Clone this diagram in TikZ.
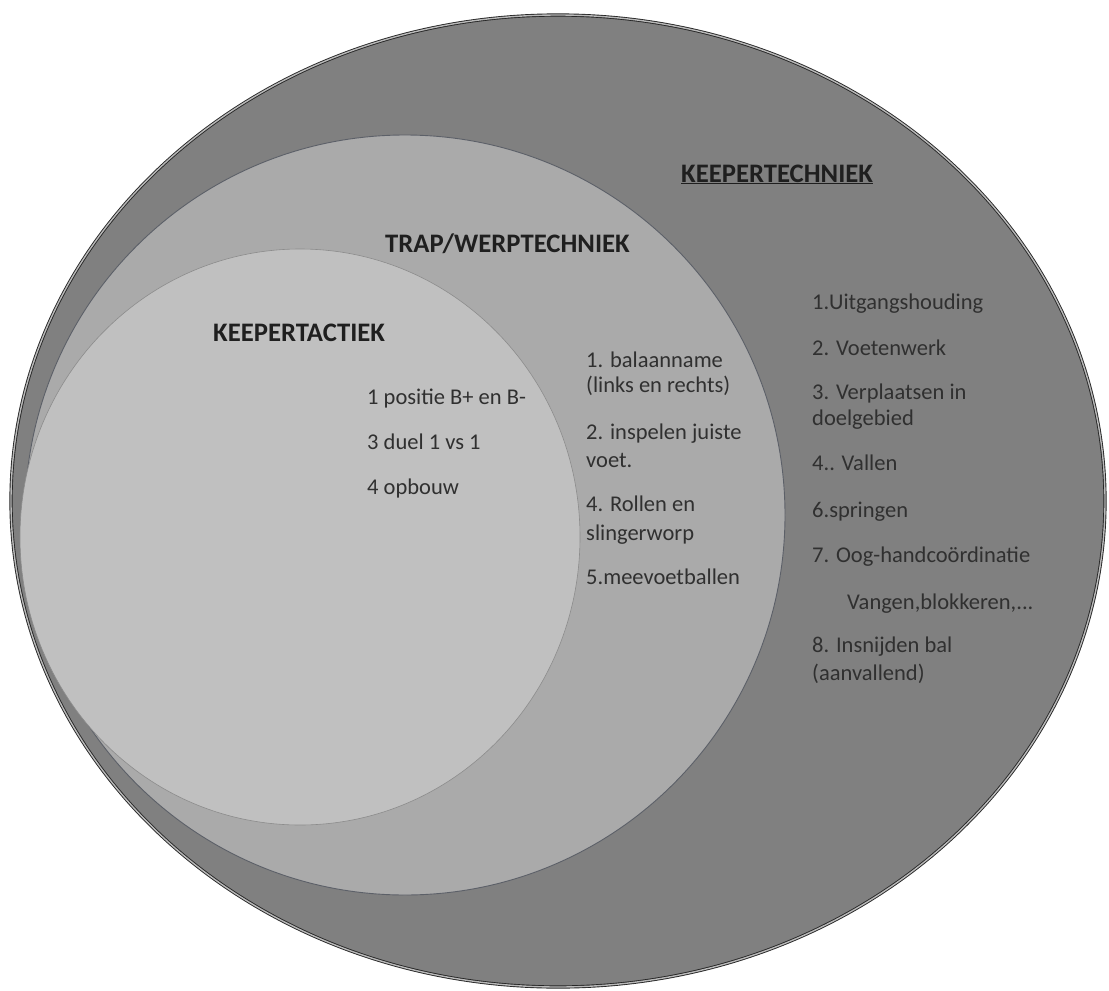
\documentclass[tikz,border=0pt]{standalone}
\usepackage{fontspec}
\setmainfont{Carlito}
\definecolor{techgray}{HTML}{808080}
\definecolor{trapgray}{HTML}{AAAAAA}
\definecolor{tactgray}{HTML}{C0C0C0}
\definecolor{rimgray}{HTML}{5C6068}
\definecolor{inkgray}{HTML}{303030}

\begin{document}
\begin{tikzpicture}[x=1pt, y=-1pt,
  title/.style={anchor=base west, inner sep=0pt, text=black!88,
    font=\fontsize{26.7}{32}\selectfont\bfseries},
  item/.style={anchor=base west, inner sep=0pt, text=inkgray,
    font=\fontsize{22.5}{27}\selectfont}]
\useasboundingbox (0,0) rectangle (1109,991);

% three nested areas
\draw[black!85, line width=0.9pt, double=techgray!55!white, double distance=1.4pt, fill=techgray]
  (558,501) ellipse [x radius=547, y radius=486];
\draw[rimgray, line width=0.9pt, fill=trapgray] (405,515) circle [radius=380];
\draw[black!45, line width=0.6pt, fill=tactgray] (300,537) ellipse [x radius=280, y radius=288];

% titles
\node[title] (techtitle) at (681,182) {\underline{KEEPERTECHNIEK}};
\node[title] (traptitle) at (385,252) {TRAP/WERPTECHNIEK};
\node[title] (tacttitle) at (213,341) {KEEPERTACTIEK};

% keepertactiek
\foreach \y/\t [count=\i] in {404/1 positie B+ en B-, 449/3 duel 1 vs 1, 494/4 opbouw}
  \node[item] (tact\i) at (367,\y) {\t};

% trap/werptechniek
\foreach \y/\t [count=\i] in {367/1. balaanname, 392/(links en rechts),
    439/2. inspelen juiste, 467/voet., 511/4. Rollen en, 540/slingerworp,
    584/5.meevoetballen}
  \node[item] (trap\i) at (586,\y) {\t};

% keepertechniek
\foreach \y/\t [count=\i] in {309/1.Uitgangshouding, 355/2. Voetenwerk,
    399/3. Verplaatsen in, 425/doelgebied, 470/4.. Vallen, 517/6.springen,
    562/7. Oog-handcoördinatie, 652/8. Insnijden bal, 680/(aanvallend)}
  \node[item] (tech\i) at (812,\y) {\t};
\node[item] (techextra) at (847,609) {Vangen,blokkeren,...};
\end{tikzpicture}
\end{document}
